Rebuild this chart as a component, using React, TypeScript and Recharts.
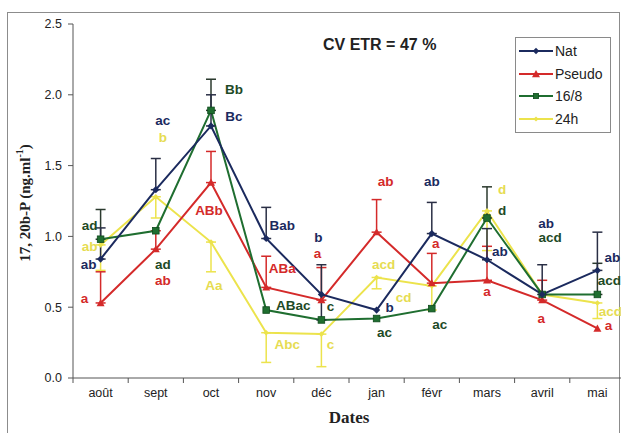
import { ComposedChart, Line, XAxis, YAxis, ErrorBar, ReferenceDot } from 'recharts';

// months on the x axis
const months = ['août', 'sept', 'oct', 'nov', 'déc', 'jan', 'févr', 'mars', 'avril', 'mai'];
const yTicks = [0, 0.5, 1.0, 1.5, 2.0, 2.5];

// 17,20b-P concentrations per treatment
const nat = [0.84, 1.33, 1.78, 0.985, 0.59, 0.48, 1.02, 0.835, 0.59, 0.76];
const pseudo = [0.53, 0.91, 1.38, 0.64, 0.55, 1.03, 0.67, 0.69, 0.55, 0.35];
const h168 = [0.98, 1.04, 1.89, 0.48, 0.41, 0.42, 0.49, 1.13, 0.59, 0.59];
const h24 = [0.94, 1.28, 0.96, 0.32, 0.31, 0.71, 0.65, 1.18, 0.59, 0.53];

// error bars as [down, up]
const natErr = [[0, 0.22], [0, 0.22], [0, 0.22], [0, 0.22], [0.18, 0.21], null, [0, 0.22], [0, 0.22], [0, 0.21], [0, 0.27]];
const pseudoErr = [[0, 0.22], [0, 0.13], [0, 0.22], [0, 0.22], [0, 0.23], [0, 0.23], [0, 0.21], [0, 0.24], [0, 0.14], null];
const h168Err = [[0, 0.21], null, [0, 0.22], null, null, null, null, [0, 0.22], null, [0, 0.22]];
const h24Err = [[0.18, 0], [0.15, 0], [0.21, 0], [0.21, 0], [0.23, 0], [0.08, 0], [0.17, 0], [0.28, 0], null, [0.11, 0]];

// significance letters: [month, value, text]
const natNotes = [['août', 0.8, 'ab'], ['sept', 1.82, 'ac'], ['oct', 1.85, 'Bc'], ['nov', 1.08, 'Bab'], ['déc', 0.995, 'b'], ['jan', 0.5, 'b'], ['févr', 1.385, 'ab'], ['mars', 0.89, 'ab'], ['avril', 1.09, 'ab'], ['mai', 0.85, 'ab']];
const pseudoNotes = [['août', 0.56, 'a'], ['sept', 0.69, 'ab'], ['oct', 1.18, 'ABb'], ['nov', 0.77, 'ABa'], ['déc', 0.88, 'a'], ['jan', 1.385, 'ab'], ['févr', 0.95, 'a'], ['mars', 0.61, 'a'], ['avril', 0.42, 'a'], ['mai', 0.37, 'a']];
const h168Notes = [['août', 1.075, 'ad'], ['sept', 0.8, 'ad'], ['oct', 2.04, 'Bb'], ['nov', 0.51, 'ABac'], ['déc', 0.505, 'c'], ['jan', 0.32, 'ac'], ['févr', 0.376, 'ac'], ['mars', 1.18, 'd'], ['avril', 0.99, 'acd'], ['mai', 0.69, 'acd']];
const h24Notes = [['août', 0.93, 'ab'], ['sept', 1.7, 'b'], ['oct', 0.65, 'Aa'], ['nov', 0.24, 'Abc'], ['déc', 0.24, 'c'], ['jan', 0.8, 'acd'], ['jan', 0.57, 'cd'], ['mars', 1.33, 'd'], ['mai', 0.47, 'acd']];

// horizontal nudges of the letters (px)
const natDx = [-12, 7, 23, 16, -3, 13, 0, 13, 4, 15];
const pseudoDx = [-16, 7, -2, 16, -4, 9, 4, 0, -1, 11];
const h168Dx = [-11, 7, 23, 27, 9, 8, 8, 15, 8, 12];
const h24Dx = [-11, 7, 3, 21, 9, 7, 27, 15, 13];

const NAVY = '#1b2a5e';
const RED = '#d42a2a';
const GREEN = '#1f6e30';
const YELLOW = '#ece34c';

const data = months.map((m, i) => ({
  month: m,
  nat: nat[i],
  pseudo: pseudo[i],
  h168: h168[i],
  h24: h24[i],
  natErr: natErr[i],
  pseudoErr: pseudoErr[i],
  h168Err: h168Err[i],
  h24Err: h24Err[i],
}));

const W = 640;
const H = 433;
const M = { top: 24, right: 15, left: 0, bottom: 0 };
const Y_W = 73;
const BAND = (W - M.left - M.right - Y_W) / months.length;

const sans = '"Liberation Sans", Arial, sans-serif';
const serif = '"Liberation Serif", "Times New Roman", serif';

const Diamond = (p: any) => {
  const { cx, cy, fill, s } = p;
  if (cx == null || cy == null) return null;
  return <path d={`M${cx},${cy - s}L${cx + s},${cy}L${cx},${cy + s}L${cx - s},${cy}Z`} fill={fill} />;
};
const Triangle = (p: any) => {
  const { cx, cy, fill, s } = p;
  if (cx == null || cy == null) return null;
  return <path d={`M${cx},${cy - s}L${cx + s},${cy + s * 0.8}L${cx - s},${cy + s * 0.8}Z`} fill={fill} />;
};
const Square = (p: any) => {
  const { cx, cy, fill, s } = p;
  if (cx == null || cy == null) return null;
  return <rect x={cx - s} y={cy - s} width={s * 2} height={s * 2} fill={fill} stroke="#0e4a1c" strokeWidth={0.8} />;
};

const MonthTick = (props: any) => {
  const { x, y, payload, index } = props;
  return (
    <g>
      <line x1={x - BAND / 2} x2={x - BAND / 2} y1={y} y2={y + 5} stroke="#555" />
      {index === months.length - 1 && <line x1={x + BAND / 2} x2={x + BAND / 2} y1={y} y2={y + 5} stroke="#555" />}
      <text x={x} y={y + 19} textAnchor="middle" fontSize={12.5} fill="#222" fontFamily={sans}>
        {payload.value}
      </text>
    </g>
  );
};

const YTitle = (props: any) => {
  const vb = props.viewBox || { y: 24, height: 354 };
  const cx = 25;
  const cy = vb.y + vb.height / 2 + 2;
  return (
    <text x={cx} y={cy} transform={`rotate(-90, ${cx}, ${cy})`} textAnchor="middle" dominantBaseline="central" fontFamily={serif} fontWeight="bold" fontSize={15} fill="#222">
      <tspan>17, 20b-P (ng.ml</tspan>
      <tspan fontSize={10} dy={-6}>-1</tspan>
      <tspan dy={6}>)</tspan>
    </text>
  );
};

const XTitle = (props: any) => {
  const vb = props.viewBox || { x: 73, width: 552, y: 378 };
  return (
    <text x={vb.x + vb.width / 2} y={423} textAnchor="middle" fontFamily={serif} fontWeight="bold" fontSize={17} fill="#222">
      Dates
    </text>
  );
};

const legendItems = [
  { name: 'Nat', color: NAVY, Shape: Diamond, s: 3.2 },
  { name: 'Pseudo', color: RED, Shape: Triangle, s: 4 },
  { name: '16/8', color: GREEN, Shape: Square, s: 2.6 },
  { name: '24h', color: YELLOW, Shape: Diamond, s: 2.6 },
];

const ChartLegend = () => (
  <div style={{ position: 'absolute', left: 515, top: 37, width: 96, boxSizing: 'border-box', border: '1px solid #8a8a8a', background: '#fff', padding: '2px 3px', fontFamily: sans, fontSize: 14, color: '#222' }}>
    {legendItems.map((it) => (
      <div key={it.name} style={{ display: 'flex', alignItems: 'center', height: 22.5 }}>
        <svg width={34} height={12} style={{ marginRight: 2 }}>
          <line x1={0} x2={34} y1={6} y2={6} stroke={it.color} strokeWidth={2} />
          <it.Shape cx={17} cy={6} fill={it.color} s={it.s} />
        </svg>
        <span>{it.name}</span>
      </div>
    ))}
  </div>
);

const notes = (list: any[], dx: number[], color: string, key: string) =>
  list.map((n, i) => (
    <ReferenceDot
      key={`${key}-${i}`}
      x={n[0]}
      y={n[1]}
      r={0}
      ifOverflow="visible"
      shape={(p: any) => (
        <text x={p.cx + dx[i]} y={p.cy} textAnchor="middle" dominantBaseline="central" fontFamily={sans} fontWeight="bold" fontSize={13.5} fill={color}>
          {n[2]}
        </text>
      )}
    />
  ));

export default function App() {
  return (
    <div style={{ position: 'absolute', left: 0, top: 0, width: 621, height: 433, overflow: 'hidden', background: '#fff' }}>
      <div style={{ position: 'absolute', left: 7, top: 12, width: 613, height: 500, boxSizing: 'border-box', border: '1.5px solid #8c8c8c' }} />
      <div style={{ position: 'absolute', left: 0, top: 0 }}>
        <ComposedChart width={W} height={H} data={data} margin={M}>
          <XAxis
            dataKey="month"
            scale="band"
            axisLine={{ stroke: '#555' }}
            tickLine={false}
            tickSize={0}
            tickMargin={0}
            interval={0}
            tick={<MonthTick />}
            height={H - M.top - 354}
            label={<XTitle />}
          />
          <YAxis
            type="number"
            domain={[0, 2.5]}
            ticks={yTicks}
            allowDataOverflow
            width={Y_W}
            tickFormatter={(v: number) => v.toFixed(1)}
            tick={{ fontSize: 12.5, fill: '#222', fontFamily: sans }}
            tickSize={5}
            tickMargin={6}
            axisLine={{ stroke: '#555' }}
            tickLine={{ stroke: '#555' }}
            label={<YTitle />}
          />
          <Line dataKey="h24" name="24h" stroke={YELLOW} strokeWidth={2} dot={(p: any) => <Diamond key={p.index} {...p} fill={YELLOW} s={2.8} />} isAnimationActive={false}>
            <ErrorBar dataKey="h24Err" stroke={YELLOW} strokeWidth={1.5} width={5} direction="y" />
          </Line>
          <Line dataKey="pseudo" name="Pseudo" stroke={RED} strokeWidth={2} dot={(p: any) => <Triangle key={p.index} {...p} fill={RED} s={4} />} isAnimationActive={false}>
            <ErrorBar dataKey="pseudoErr" stroke={RED} strokeWidth={1.5} width={5} direction="y" />
          </Line>
          <Line dataKey="h168" name="16/8" stroke={GREEN} strokeWidth={2} dot={(p: any) => <Square key={p.index} {...p} fill={GREEN} s={3.3} />} isAnimationActive={false}>
            <ErrorBar dataKey="h168Err" stroke="#2b3a2e" strokeWidth={1.5} width={5} direction="y" />
          </Line>
          <Line dataKey="nat" name="Nat" stroke={NAVY} strokeWidth={2} dot={(p: any) => <Diamond key={p.index} {...p} fill={NAVY} s={3.6} />} isAnimationActive={false}>
            <ErrorBar dataKey="natErr" stroke="#2a2f45" strokeWidth={1.5} width={5} direction="y" />
          </Line>
          {notes(h24Notes, h24Dx, '#e6dc52', 'y')}
          {notes(pseudoNotes, pseudoDx, RED, 'r')}
          {notes(h168Notes, h168Dx, '#1e4a26', 'g')}
          {notes(natNotes, natDx, NAVY, 'n')}
        </ComposedChart>
      </div>
      <div style={{ position: 'absolute', left: 323, top: 36, fontFamily: sans, fontWeight: 'bold', fontSize: 16, color: '#222' }}>
        CV ETR = 47 %
      </div>
      <ChartLegend />
    </div>
  );
}
